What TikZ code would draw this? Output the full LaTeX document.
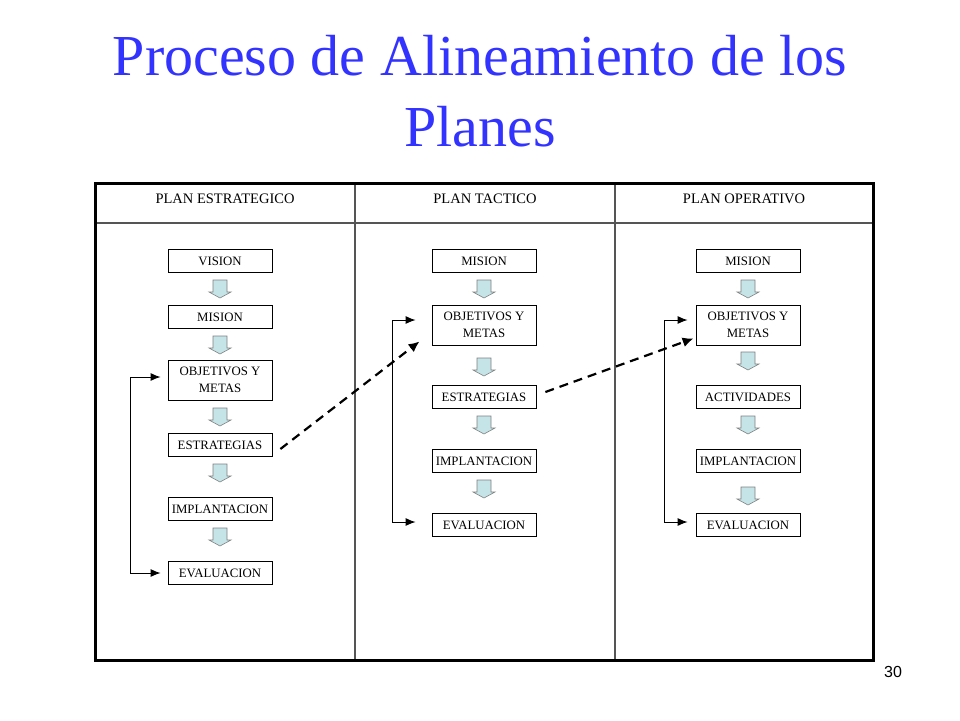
\documentclass[tikz,border=0pt]{standalone}
\usepackage{fontspec}
\setmainfont{Liberation Serif}
\newfontfamily\arialfont{Liberation Sans}
\usepackage{tikz}
\usetikzlibrary{calc,arrows.meta}
\definecolor{azultitulo}{RGB}{51,51,255}
\definecolor{celeste}{RGB}{197,228,232}
\definecolor{gristabla}{RGB}{85,85,85}
\def\flecha(#1,#2){\draw[bloque] (#1-7,#2-9) -- (#1+7,#2-9) -- (#1+7,#2+3) -- (#1+11,#2+3) -- (#1,#2+9) -- (#1-11,#2+3) -- (#1-7,#2+3) -- cycle;}

\begin{document}
\begin{tikzpicture}[x=1pt,y=-1pt,
		caja/.style={draw=black, line width=0.8pt, fill=white, minimum width=104pt, minimum height=23pt, inner sep=0pt, align=center, font=\fontsize{12.8}{16.5}\selectfont},
		cajados/.style={caja, minimum height=40pt},
		bloque/.style={draw=black!50, line width=0.6pt, fill=celeste},
		retro/.style={line width=1pt, {Latex[length=10pt,width=8pt]}-{Latex[length=10pt,width=8pt]}},
		enlace/.style={line width=2.2pt, dash pattern=on 9pt off 6pt, -{Latex[length=11pt,width=10pt]}},
		encabezado/.style={font=\fontsize{14.5}{16}\selectfont}]
		%%%%% START %%%%%
		
		\useasboundingbox (0, 0) rectangle (960, 720);
		
		\node[text=azultitulo, align=center, font=\fontsize{58}{71}\selectfont] (titulo) at (480, 91) {Proceso de Alineamiento de los\\Planes};
		
		% tabla
		\draw[line width=1.5pt, color=gristabla] (95, 223) -- (873, 223);
		\draw[line width=1.5pt, color=gristabla] (355, 183) -- (355, 660);
		\draw[line width=1.5pt, color=gristabla] (615, 183) -- (615, 660);
		\draw[line width=3pt] (95, 183) rectangle (873, 660);
		
		\node[encabezado] (plan1) at (225, 199) {PLAN ESTRATEGICO};
		\node[encabezado] (plan2) at (485, 199) {PLAN TACTICO};
		\node[encabezado] (plan3) at (744, 199) {PLAN OPERATIVO};
		
		% plan estrategico
		\node[caja] (vis1) at (220, 261) {VISION};
		\node[caja] (mis1) at (220, 317) {MISION};
		\node[cajados] (obj1) at (220, 380) {OBJETIVOS Y\\METAS};
		\node[caja] (est1) at (220, 445) {ESTRATEGIAS};
		\node[caja] (imp1) at (220, 509) {IMPLANTACION};
		\node[caja] (eva1) at (220, 573) {EVALUACION};
		\foreach \y in {289, 345, 417, 473, 537}
			\flecha(220,\y);
		
		% plan tactico
		\node[caja] (mis2) at (484, 261) {MISION};
		\node[cajados] (obj2) at (484, 325) {OBJETIVOS Y\\METAS};
		\node[caja] (est2) at (484, 397) {ESTRATEGIAS};
		\node[caja] (imp2) at (484, 461) {IMPLANTACION};
		\node[caja] (eva2) at (484, 525) {EVALUACION};
		\foreach \y in {289, 367, 425, 489}
			\flecha(484,\y);
		
		% plan operativo
		\node[caja] (mis3) at (748, 261) {MISION};
		\node[cajados] (obj3) at (748, 325) {OBJETIVOS Y\\METAS};
		\node[caja] (act3) at (748, 397) {ACTIVIDADES};
		\node[caja] (imp3) at (748, 461) {IMPLANTACION};
		\node[caja] (eva3) at (748, 525) {EVALUACION};
		\foreach \y in {289, 361, 425, 496}
			\flecha(748,\y);
		
		% retroalimentacion
		\draw[retro] ([xshift=-7pt, yshift=3pt]obj1.west) -- ++(-30, 0) |- ([xshift=-7pt]eva1.west);
		\draw[retro] ([xshift=-16pt, yshift=5pt]obj2.west) -- ++(-23, 0) |- ([xshift=-16pt, yshift=3pt]eva2.west);
		\draw[retro] ([xshift=-8pt, yshift=5pt]obj3.west) -- ++(-23, 0) |- ([xshift=-8pt, yshift=3pt]eva3.west);
		
		% enlaces entre planes
		\draw[enlace] ([xshift=8pt, yshift=-4pt]est1.east) -- ([xshift=-12pt, yshift=4pt]obj2.south west);
		\draw[enlace] ([xshift=9pt, yshift=5pt]est2.east) -- ([xshift=-2pt, yshift=7pt]obj3.south west);
		
		\node[font=\arialfont\fontsize{16}{18}\selectfont] (pagina) at (893, 672) {30};
		
		%%%%% END %%%%%
\end{tikzpicture}
\end{document}
